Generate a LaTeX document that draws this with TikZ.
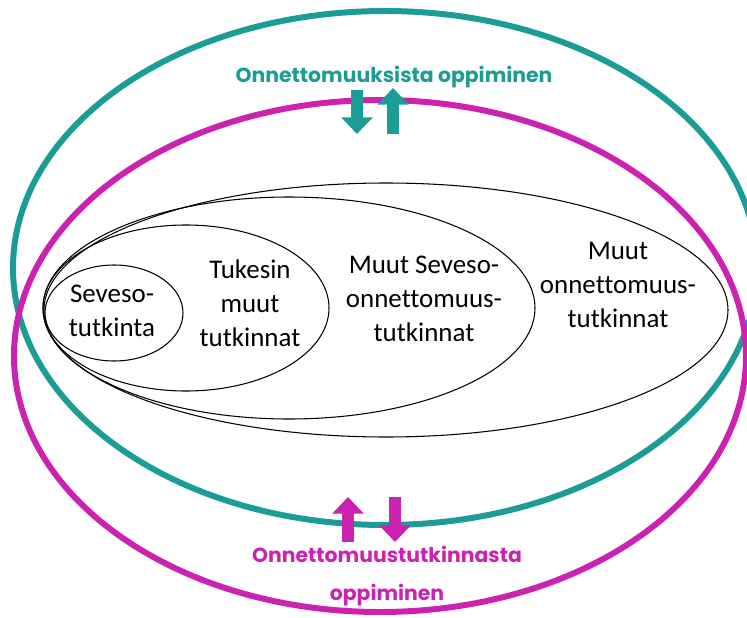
\documentclass[tikz,border=0pt]{standalone}
\usepackage{fontspec}
\setmainfont{Carlito}[Ligatures=NoCommon]
\newfontfamily\headfont{Poppins}
\usetikzlibrary{arrows.meta}
\definecolor{cteal}{HTML}{1B9C94}
\definecolor{cmag}{HTML}{CC22B0}
\tikzset{
  ring/.style={draw=#1, line width=5.1pt},
  setline/.style={draw=black, line width=0.9pt},
  label/.style={font=\fontsize{23}{29}\selectfont, align=center, inner sep=0pt},
  title/.style={text=#1, font=\headfont\bfseries\fontsize{17.4}{32}\selectfont, align=center, inner sep=0pt},
  blockarrow/.style={draw=#1, line width=11pt, -{Triangle[length=0.5cm, width=0.92cm]}},
}

\begin{document}
\begin{tikzpicture}[x=0.03cm, y=-0.03cm]
  \useasboundingbox (0,0) rectangle (747,618);
  \clip (0,0) rectangle (747,618);
  % nested sets
  \draw[setline] (386,310) ellipse [x radius=342, y radius=127];
  \draw[setline] (289,308) ellipse [x radius=246, y radius=111];
  \draw[setline] (186,308) ellipse [x radius=143, y radius=83];
  \draw[setline] (114,313) ellipse [x radius=69, y radius=48];
  % learning rings
  \draw[ring=cteal] (385,268) ellipse [x radius=372, y radius=257];
  \draw[ring=cmag] (380,356) ellipse [x radius=366, y radius=256];
  % texts
  \node[label] (seveso) at (112,311) {Seveso-\\tutkinta};
  \node[label] (tukes) at (250,303) {Tukesin\\muut\\tutkinnat};
  \node[label] (muutsev) at (424,299) {Muut Seveso-\\onnettomuus-\\tutkinnat};
  \node[label] (muut) at (618,285) {Muut\\onnettomuus-\\tutkinnat};
  \node[title=cteal] (oppi) at (394,77) {Onnettomuuksista oppiminen};
  \node[title=cmag] (tutkoppi) at (387,576) {Onnettomuustutkinnasta\\oppiminen};
  % arrows
  \coordinate (td1) at (357,90);  \coordinate (td2) at (357,134);
  \coordinate (tu1) at (393,134); \coordinate (tu2) at (393,88);
  \coordinate (mu1) at (348,542); \coordinate (mu2) at (348,497);
  \coordinate (md1) at (395,497); \coordinate (md2) at (395,542);
  \draw[blockarrow=cteal] (td1) -- (td2);
  \draw[blockarrow=cteal] (tu1) -- (tu2);
  \draw[blockarrow=cmag] (mu1) -- (mu2);
  \draw[blockarrow=cmag] (md1) -- (md2);
\end{tikzpicture}
\end{document}
